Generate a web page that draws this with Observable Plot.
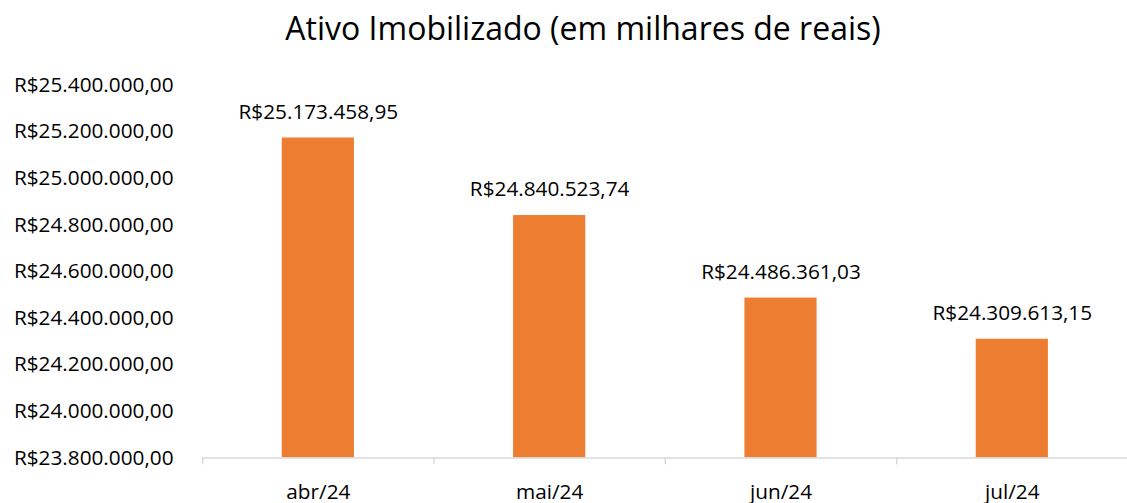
<!DOCTYPE html>
<html>
<head>
<meta charset="utf-8">
<script src="https://cdn.jsdelivr.net/npm/d3@7"></script>
<script src="https://cdn.jsdelivr.net/npm/@observablehq/plot@0.6"></script>
<style>
  html, body { margin: 0; padding: 0; background: #fff; overflow: hidden; width: 1127px; height: 503px; }
  #title { position: absolute; left: 0; top: 8px; width: 1166px; text-align: center; font-family: "Open Sans", sans-serif; font-size: 32px; color: #000; line-height: 40px; white-space: nowrap; }
  #chart { position: absolute; left: 0; top: 60px; }
  #chart svg { overflow: visible; }
</style>
</head>
<body>
<div id="title">Ativo Imobilizado (em milhares de reais)</div>
<div id="chart"></div>
<script>
const categories = ["abr/24", "mai/24", "jun/24", "jul/24"];
const values = [25173458.95, 24840523.74, 24486361.03, 24309613.15];
const yTicks = [23800000, 24000000, 24200000, 24400000, 24600000, 24800000, 25000000, 25200000, 25400000];
const yMin = 23800000;
const yMax = 25400000;

const data = categories.map((c, i) => ({cat: c, value: values[i]}));
const locale = d3.formatLocale({decimal: ",", thousands: ".", grouping: [3], currency: ["R$", ""]});
const fmt = locale.format("$,.2f");

const W = 1140, H = 443, ML = 204, MR = 0;
const step = (W - ML - MR) / categories.length;
const font = "Open Sans, sans-serif";

const chart = Plot.plot({
  width: W,
  height: H,
  marginLeft: ML,
  marginRight: MR,
  marginTop: 25,
  marginBottom: 41,
  style: {fontFamily: font, fontSize: "21px", color: "#000", background: "#fff"},
  x: {domain: categories, paddingInner: 0.69, paddingOuter: 0.345, label: null},
  y: {domain: [yMin, yMax], label: null},
  marks: [
    Plot.barY(data, {x: "cat", y1: () => yMin, y2: "value", fill: "#ED7D31"}),
    Plot.ruleY([yMin], {stroke: "#d9d9d9", strokeWidth: 1.5}),
    Plot.axisX({tickSize: 7, dx: -step / 2, text: null, stroke: "#d9d9d9", strokeWidth: 1.5, strokeOpacity: 1}),
    Plot.axisX({tickSize: 0, tickPadding: 27, fontSize: 21, fill: "#000"}),
    Plot.axisY({ticks: yTicks, tickSize: 0, tickPadding: 29, tickFormat: fmt, fontSize: 21, fill: "#000"}),
    Plot.text(data, {x: "cat", y: "value", text: d => fmt(d.value), dy: -26, fontSize: 21, fill: "#000"})
  ]
});
document.getElementById("chart").appendChild(chart);
</script>
</body>
</html>
